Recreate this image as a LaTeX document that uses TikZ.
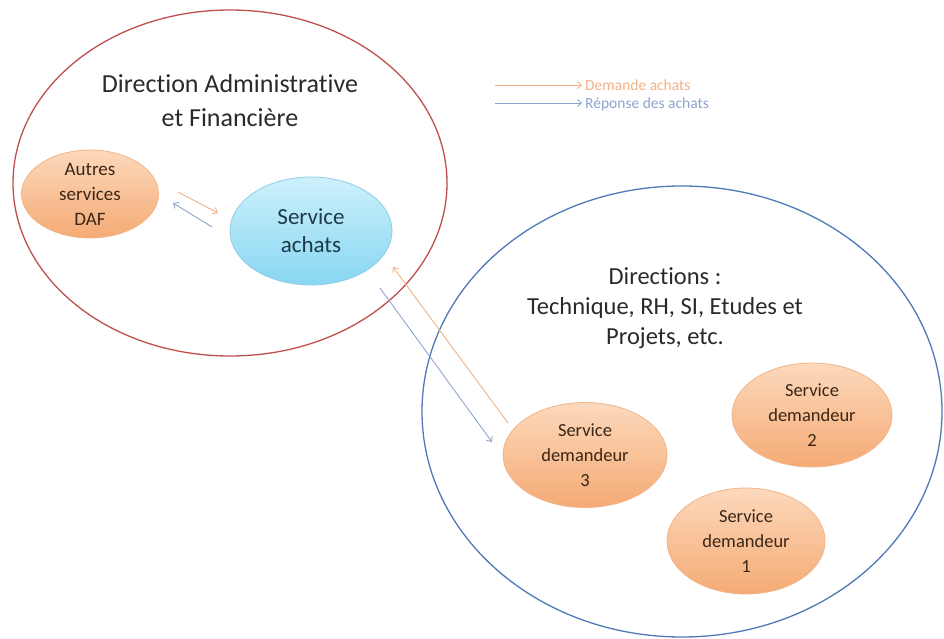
\documentclass[tikz,border=0pt]{standalone}
\usepackage{fontspec}
\setmainfont{Carlito}[Ligatures=NoCommon]
\usetikzlibrary{shapes.geometric,arrows.meta}
\definecolor{redline}{HTML}{C0504D}
\definecolor{blueline}{HTML}{4F7AB8}
\definecolor{orgtop}{HTML}{FCD9BC}
\definecolor{orgbot}{HTML}{F5AA74}
\definecolor{orgdraw}{HTML}{F2B589}
\definecolor{cyantop}{HTML}{CDF1FC}
\definecolor{cyanbot}{HTML}{88D6F2}
\definecolor{cyandraw}{HTML}{8FCDE5}
\definecolor{arrorg}{HTML}{F4B183}
\definecolor{arrblue}{HTML}{8EA4CC}
\definecolor{txtdark}{HTML}{2A2A2A}
\definecolor{txtbrown}{HTML}{3A2616}
\definecolor{txtteal}{HTML}{1E3A48}
\begin{document}
\begin{tikzpicture}[x=1pt,y=-1pt,
  bigell/.style={ellipse, inner sep=0pt, line width=1.3pt},
  orgell/.style={ellipse, inner sep=0pt, top color=orgtop, bottom color=orgbot, draw=orgdraw, line width=0.8pt, align=center, text=txtbrown},
  cyanell/.style={ellipse, inner sep=0pt, top color=cyantop, bottom color=cyanbot, draw=cyandraw, line width=0.8pt, align=center, text=txtteal},
  headtxt/.style={align=center, text=txtdark, inner sep=0pt},
  arrowo/.style={draw=arrorg, line width=0.9pt, -{Straight Barb[length=4pt,width=7pt]}},
  arrowb/.style={draw=arrblue, line width=0.9pt, -{Straight Barb[length=4pt,width=7pt]}},
  legtxt/.style={anchor=west, inner sep=0pt, font=\fontsize{15.5}{18}\selectfont}
]
\useasboundingbox[fill=white] (0,0) rectangle (944,639);

% big ellipses
\node[bigell, draw=redline, minimum width=434pt, minimum height=346pt] (daf) at (230,183) {};
\node[bigell, draw=blueline, minimum width=520pt, minimum height=451pt] (dirs) at (682,411.5) {};

% headings
\node[headtxt, font=\fontsize{26}{34}\selectfont] (daftitle) at (230,101) {Direction Administrative\\et Financière};
\node[headtxt, font=\fontsize{24.5}{30}\selectfont] (dirstitle) at (665,308) {Directions :\\Technique, RH, SI, Etudes et\\Projets, etc.};

% inner ellipses
\node[orgell, minimum width=137pt, minimum height=78pt, font=\fontsize{19}{25}\selectfont] (autres) at (90,194) {Autres\\services\\DAF};
\node[cyanell, minimum width=162pt, minimum height=108pt, font=\fontsize{23}{28}\selectfont] (achats) at (311,231) {Service\\achats};
\node[orgell, minimum width=164pt, minimum height=105pt, font=\fontsize{18.5}{25}\selectfont] (sd3) at (585,455) {Service\\demandeur\\3};
\node[orgell, minimum width=160pt, minimum height=104pt, font=\fontsize{18.5}{25}\selectfont] (sd2) at (812,415) {Service\\demandeur\\2};
\node[orgell, minimum width=158pt, minimum height=106pt, font=\fontsize{18.5}{25}\selectfont] (sd1) at (746,541) {Service\\demandeur\\1};

% connector end points
\coordinate (o1s) at (178,192);
\coordinate (o1e) at (218,213);
\coordinate (b1s) at (212,227);
\coordinate (b1e) at (173,203);
\coordinate (o2s) at (508,423);
\coordinate (o2e) at (393,267);
\coordinate (b2s) at (380,288);
\coordinate (b2e) at (492,442);

\draw[arrowo] (o1s) -- (o1e);
\draw[arrowb] (b1s) -- (b1e);
\draw[arrowo] (o2s) -- (o2e);
\draw[arrowb] (b2s) -- (b2e);

% legend
\coordinate (lo1) at (495,85);
\coordinate (lo2) at (582,85);
\coordinate (lb1) at (495,103);
\coordinate (lb2) at (582,103);
\draw[arrowo, line width=0.8pt] (lo1) -- (lo2);
\draw[arrowb, line width=0.8pt] (lb1) -- (lb2);
\node[legtxt, text=arrorg] (legdem) at (585,85) {Demande achats};
\node[legtxt, text=arrblue] (legrep) at (585,104) {Réponse des achats};
\end{tikzpicture}
\end{document}
